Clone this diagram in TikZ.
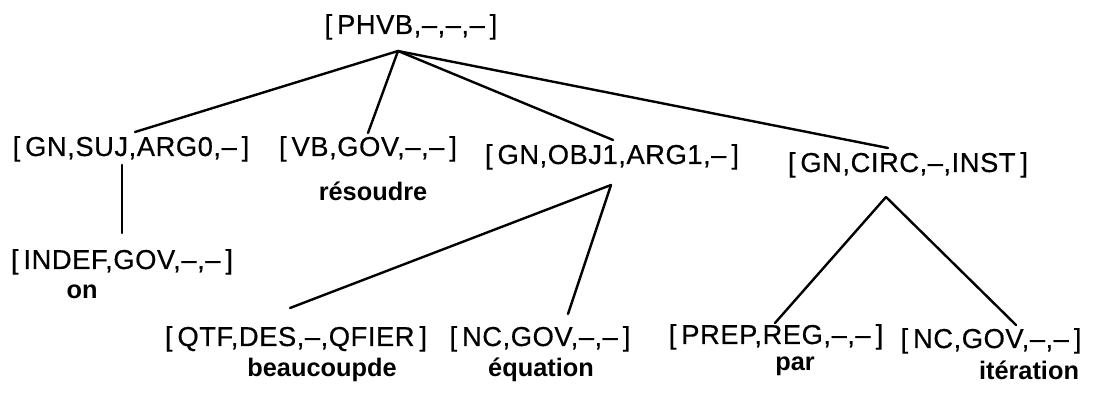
\documentclass[tikz,border=0pt]{standalone}
\usepackage{fontspec}
\setmainfont{Liberation Sans}
\newfontfamily\labfont[LetterSpace=2,FakeBold=0.5]{Liberation Sans}
\newfontfamily\wordfont[FakeStretch=1.0]{Liberation Sans Bold}
\usetikzlibrary{calc}
\newcommand{\lb}{[\hspace{0.18em}}
\newcommand{\rb}{\hspace{0.18em}]}
\tikzset{
  cat/.style={inner sep=0pt, anchor=base, font=\labfont\fontsize{20.5}{24}\selectfont},
  lex/.style={inner sep=0pt, anchor=base, font=\wordfont\fontsize{19}{22}\selectfont},
  edge/.style={line width=1.8pt, line cap=round}
}
\begin{document}
\begin{tikzpicture}[x=0.75pt,y=-0.75pt]
\useasboundingbox (0,0) rectangle (1120,398);
% nodes
\node[cat] (root) at (411,34) {\lb PHVB,–,–,–\rb};
\node[cat] (suj) at (131,156) {\lb GN,SUJ,ARG0,–\rb};
\node[cat] (vb) at (368,156) {\lb VB,GOV,–,–\rb};
\node[lex] (vbw) at (373,201) {résoudre};
\node[cat] (obj) at (612,164) {\lb GN,OBJ1,ARG1,–\rb};
\node[cat] (circ) at (908,172) {\lb GN,CIRC,–,INST\rb};
\node[cat] (indef) at (122,269) {\lb INDEF,GOV,–,–\rb};
\node[lex] (on) at (82,299) {on};
\node[cat] (qtf) at (296,346) {\lb QTF,DES,–,QFIER\rb};
\node[lex] (beau) at (322,377) {beaucoupde};
\node[cat] (nca) at (540,346) {\lb NC,GOV,–,–\rb};
\node[lex] (equ) at (541,377) {équation};
\node[cat] (prep) at (776,344) {\lb PREP,REG,–,–\rb};
\node[lex] (par) at (795,371) {par};
\node[cat] (ncb) at (991,348) {\lb NC,GOV,–,–\rb};
\node[lex] (iter) at (1029,380) {itération};
% apexes
\coordinate (rA) at ($(root.base)+(-13,17)$);
\coordinate (oA) at ($(obj.base)+(-1,21)$);
\coordinate (cA) at ($(circ.base)+(-22,25)$);
% edges
\draw[edge] (rA) -- ($(suj.base)+(4,-24)$);
\draw[edge] (rA) -- ($(vb.base)+(0,-23)$);
\draw[edge] (rA) -- ($(obj.base)+(1,-24)$);
\draw[edge] (rA) -- ($(circ.base)+(-20,-24)$);
\draw[edge] ($(suj.base)+(-9,9)$) -- ($(indef.base)+(0,-36)$);
\draw[edge] (oA) -- ($(qtf.base)+(-6,-38)$);
\draw[edge] (oA) -- ($(nca.base)+(28,-32)$);
\draw[edge] (cA) -- ($(prep.base)+(-1,-21)$);
\draw[edge] (cA) -- ($(ncb.base)+(25,-23)$);
\end{tikzpicture}
\end{document}
